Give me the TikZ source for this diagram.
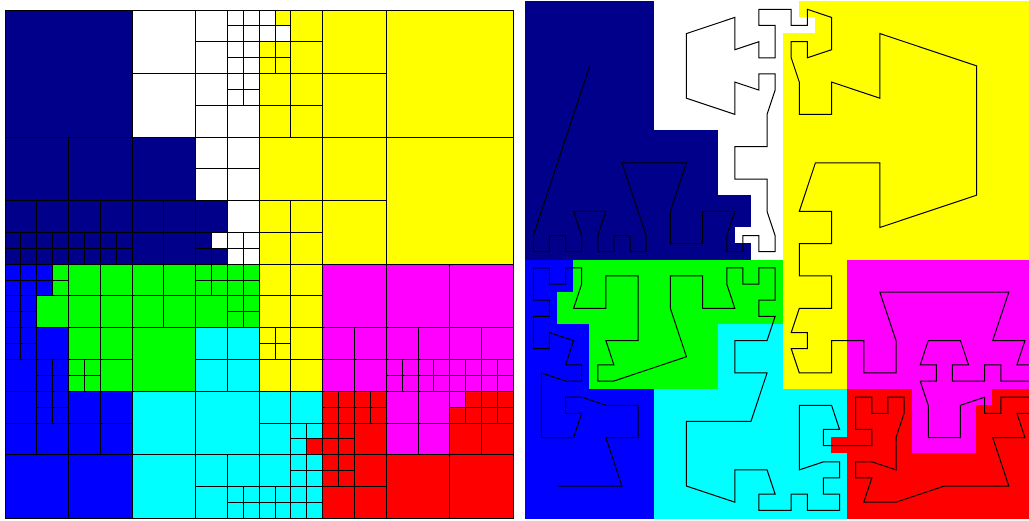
\documentclass[tikz,border=0pt]{standalone}
\definecolor{qN}{RGB}{0,0,139}
\definecolor{qB}{RGB}{0,0,255}
\definecolor{qG}{RGB}{0,255,0}
\definecolor{qC}{RGB}{0,255,255}
\definecolor{qM}{RGB}{255,0,255}
\definecolor{qY}{RGB}{255,255,0}
\definecolor{qR}{RGB}{255,0,0}
\definecolor{qW}{RGB}{255,255,255}
\newcommand\hcells[3]{\cc{#1}{#2}{.5}{#3}\cc{#1+.5}{#2}{.5}{#3}\cc{#1}{#2+.5}{.5}{#3}\cc{#1+.5}{#2+.5}{.5}{#3}}
\newcommand\allcells{%
% top-left quadrant
\cc{0}{0}{4}{qN}
\cc{4}{0}{2}{qW}\cc{4}{2}{2}{qW}
\cc{6}{0}{1}{qW}\hcells{7}{0}{qW}
\cc{6}{1}{1}{qW}\hcells{7}{1}{qW}
\cc{6}{2}{1}{qW}\hcells{7}{2}{qW}
\cc{6}{3}{1}{qW}\cc{7}{3}{1}{qW}
\cc{0}{4}{2}{qN}\cc{2}{4}{2}{qN}\cc{4}{4}{2}{qN}
\cc{6}{4}{1}{qW}\cc{7}{4}{1}{qW}\cc{6}{5}{1}{qW}\cc{7}{5}{1}{qW}
\cc{0}{6}{1}{qN}\cc{1}{6}{1}{qN}\cc{2}{6}{1}{qN}\cc{3}{6}{1}{qN}\cc{4}{6}{1}{qN}\cc{5}{6}{1}{qN}\cc{6}{6}{1}{qN}\cc{7}{6}{1}{qW}
\hcells{0}{7}{qN}\hcells{1}{7}{qN}\hcells{2}{7}{qN}\hcells{3}{7}{qN}\cc{4}{7}{1}{qN}\cc{5}{7}{1}{qN}
\cc{6}{7}{.5}{qN}\cc{6.5}{7}{.5}{qW}\cc{6}{7.5}{.5}{qN}\cc{6.5}{7.5}{.5}{qN}
\hcells{7}{7}{qW}
% top-right quadrant
\cc{8}{0}{.5}{qW}\cc{8.5}{0}{.5}{qY}\cc{8}{.5}{.5}{qW}\cc{8.5}{.5}{.5}{qW}
\cc{9}{0}{1}{qY}\hcells{8}{1}{qY}\cc{9}{1}{1}{qY}
\cc{10}{0}{2}{qY}\cc{12}{0}{4}{qY}
\cc{8}{2}{1}{qY}\cc{9}{2}{1}{qY}\cc{8}{3}{1}{qY}\cc{9}{3}{1}{qY}\cc{10}{2}{2}{qY}
\cc{8}{4}{2}{qY}\cc{10}{4}{2}{qY}\cc{12}{4}{4}{qY}
\cc{8}{6}{1}{qY}\cc{9}{6}{1}{qY}\cc{8}{7}{1}{qY}\cc{9}{7}{1}{qY}\cc{10}{6}{2}{qY}
% bottom-left quadrant
\hcells{0}{8}{qB}\cc{1}{8}{.5}{qB}\cc{1.5}{8}{.5}{qG}\cc{1}{8.5}{.5}{qB}\cc{1.5}{8.5}{.5}{qG}
\cc{2}{8}{1}{qG}\cc{3}{8}{1}{qG}\cc{4}{8}{1}{qG}\cc{5}{8}{1}{qG}\hcells{6}{8}{qG}\hcells{7}{8}{qG}
\hcells{0}{9}{qB}\cc{1}{9}{1}{qG}\cc{2}{9}{1}{qG}\cc{3}{9}{1}{qG}\cc{4}{9}{1}{qG}\cc{5}{9}{1}{qG}\cc{6}{9}{1}{qG}\hcells{7}{9}{qG}
\hcells{0}{10}{qB}\cc{1}{10}{1}{qB}\cc{2}{10}{1}{qG}\cc{3}{10}{1}{qG}\cc{4}{10}{2}{qG}\cc{6}{10}{1}{qC}\cc{7}{10}{1}{qC}
\cc{0}{11}{1}{qB}\hcells{1}{11}{qB}\hcells{2}{11}{qG}\cc{3}{11}{1}{qG}\cc{6}{11}{1}{qC}\cc{7}{11}{1}{qC}
\cc{0}{12}{1}{qB}\hcells{1}{12}{qB}\cc{2}{12}{1}{qB}\cc{3}{12}{1}{qB}
\cc{0}{13}{1}{qB}\cc{1}{13}{1}{qB}\cc{2}{13}{1}{qB}\cc{3}{13}{1}{qB}
\cc{4}{12}{2}{qC}\cc{6}{12}{2}{qC}
\cc{0}{14}{2}{qB}\cc{2}{14}{2}{qB}\cc{4}{14}{2}{qC}
\cc{6}{14}{1}{qC}\cc{7}{14}{1}{qC}\cc{6}{15}{1}{qC}\hcells{7}{15}{qC}
% bottom-right quadrant
\cc{8}{8}{1}{qY}\cc{9}{8}{1}{qY}\cc{8}{9}{1}{qY}\cc{9}{9}{1}{qY}
\hcells{8}{10}{qY}\cc{9}{10}{1}{qY}\cc{8}{11}{1}{qY}\cc{9}{11}{1}{qY}
\cc{10}{8}{2}{qM}\cc{12}{8}{2}{qM}\cc{14}{8}{2}{qM}
\cc{10}{10}{1}{qM}\cc{11}{10}{1}{qM}\cc{10}{11}{1}{qM}\cc{11}{11}{1}{qM}
\cc{12}{10}{1}{qM}\cc{13}{10}{1}{qM}\cc{14}{10}{1}{qM}\cc{15}{10}{1}{qM}
\hcells{12}{11}{qM}\hcells{13}{11}{qM}\hcells{14}{11}{qM}\hcells{15}{11}{qM}
\cc{8}{12}{1}{qC}\cc{9}{12}{1}{qC}
\hcells{10}{12}{qR}\hcells{11}{12}{qR}
\cc{12}{12}{1}{qM}\cc{13}{12}{1}{qM}
\cc{14}{12}{.5}{qM}\cc{14.5}{12}{.5}{qR}\cc{14}{12.5}{.5}{qR}\cc{14.5}{12.5}{.5}{qR}
\hcells{15}{12}{qR}
\cc{8}{13}{1}{qC}\cc{9}{13}{.5}{qC}\cc{9.5}{13}{.5}{qC}\cc{9}{13.5}{.5}{qC}\cc{9.5}{13.5}{.5}{qR}
\hcells{10}{13}{qR}\cc{11}{13}{1}{qR}\cc{12}{13}{1}{qM}\cc{13}{13}{1}{qM}\cc{14}{13}{1}{qR}\cc{15}{13}{1}{qR}
\cc{8}{14}{1}{qC}\hcells{9}{14}{qC}\hcells{10}{14}{qR}\cc{11}{14}{1}{qR}
\hcells{8}{15}{qC}\hcells{9}{15}{qC}\cc{10}{15}{1}{qR}\cc{11}{15}{1}{qR}
\cc{12}{14}{2}{qR}\cc{14}{14}{2}{qR}
}
\tikzset{gridline/.style={draw=black,line width=1pt},
         curveline/.style={draw=black,line width=1pt,line join=miter}}
\begin{document}
\begin{tikzpicture}[x=1pt,y=-1pt]
\useasboundingbox (0,0) rectangle (1029,520);
\fill[white] (0,0) rectangle (1029,520);
% left panel: quadtree
\begin{scope}[shift={(5,10)},x=31.77pt,y=-31.77pt]
 \def\cc#1#2#3#4{\fill[#4] (#1,#2) rectangle ++(#3,#3);}
 \allcells
 \def\cc#1#2#3#4{\path[gridline] (#1,#2) rectangle ++(#3,#3);}
 \allcells
\end{scope}
% right panel: partition and Hilbert curve
\begin{scope}
\clip (515,0) rectangle (1029,520);
\begin{scope}[shift={(525.25,1.25)},x=32.24pt,y=-32.32pt]
 \def\cc#1#2#3#4{\filldraw[fill=#4,draw=#4,line width=0.5pt] (#1,#2) rectangle ++(#3,#3);}
 \allcells
\end{scope}
\begin{scope}[shift={(525.25,1.25)},x=8.06pt,y=-8.08pt]
\path[curveline] (8,8)--(4,20)--(2,26)--(1,29)--(1,31)--(3,31)--(3,29)--(5,29)--(5,31)--(7,31)--(7,29)--(6,26)--(10,26)--(9,29)--(9,31)--(11,31)--(11,29)--(13,29)--(13,31)--(15,31)--(15,29)--(14,26)--(12,20)--(20,20)--(18,26)--(18,30)--(22,30)--(22,26)--(26,26)--(25,29)--(25,31)--(27,31)--(27,29)--(29,29)--(29,31)--(31,31)--(31,29)--(30,26)--(30,22)--(26,22)--(26,18)--(30,18)--(30,14)--(31,11)--(31,9)--(29,9)--(29,11)--(26,10)--(26,14)--(20,12)--(20,4)--(26,2)--(26,6)--(29,5)--(29,7)--(31,7)--(31,5)--(31,3)--(29,3)--(29,1)--(31,1)
--(33,1)--(33,3)--(35,3)--(35,1)--(38,2)--(38,6)--(35,7)--(35,5)--(33,5)--(33,7)--(34,10)--(34,14)--(38,14)--(38,10)--(44,12)--(44,4)--(56,8)--(56,24)--(44,28)--(44,20)--(36,20)--(34,26)--(38,26)--(38,30)--(34,30)
--(34,34)--(38,34)--(38,38)--(34,38)--(33,41)--(35,41)--(35,43)--(33,43)--(34,46)--(38,46)--(38,42)--(42,42)--(42,46)--(46,46)--(46,42)--(44,36)--(52,36)--(60,36)--(58,42)--(62,42)--(61,45)--(63,45)--(63,47)--(61,47)--(59,47)--(59,45)--(57,45)--(57,47)--(55,47)--(53,47)--(53,45)--(55,45)--(54,42)--(50,42)--(49,45)--(51,45)--(51,47)--(49,47)--(50,50)--(50,54)--(54,54)--(54,50)--(57,49)--(57,51)--(59,51)--(59,49)--(61,49)--(63,49)--(63,51)--(61,51)--(62,54)--(58,54)--(60,60)--(52,60)--(46,62)--(42,62)--(43,59)--(41,59)--(41,57)--(43,57)--(46,58)--(46,54)--(47,51)--(47,49)--(45,49)--(45,51)--(43,51)--(43,49)--(41,49)--(41,51)--(41,53)--(43,53)--(43,55)--(41,55)--(39,55)--(37,55)--(37,53)--(39,53)--(38,50)--(34,50)--(34,54)--(34,58)--(37,57)--(39,57)--(39,59)--(37,59)--(37,61)--(39,61)--(39,63)--(37,63)--(35,63)--(35,61)--(33,61)--(33,63)
--(31,63)--(29,63)--(29,61)--(31,61)--(30,58)--(26,58)--(26,62)--(20,60)--(20,52)--(28,52)--(30,46)--(26,46)--(26,42)--(30,42)--(31,39)--(29,39)--(29,37)--(31,37)--(31,35)--(31,33)--(29,33)--(29,35)--(27,35)--(27,33)--(25,33)--(25,35)--(26,38)--(22,38)--(22,34)--(18,34)--(18,38)--(20,44)--(14,46)--(11,47)--(9,47)--(9,45)--(11,45)--(10,42)--(14,42)--(14,38)--(14,34)--(10,34)--(10,38)--(6,38)--(7,35)--(7,33)--(5,33)--(5,35)--(3,35)--(3,33)--(1,33)--(1,35)--(1,37)--(3,37)--(3,39)--(1,39)--(1,41)--(1,43)--(3,43)--(3,41)--(6,42)--(5,45)--(7,45)--(7,47)--(5,47)--(2,46)--(2,50)--(2,54)--(6,54)--(7,51)--(5,51)--(5,49)--(7,49)--(10,50)--(14,50)--(14,54)--(10,54)--(12,60)--(4,60);
\end{scope}
\end{scope}
\end{tikzpicture}
\end{document}
